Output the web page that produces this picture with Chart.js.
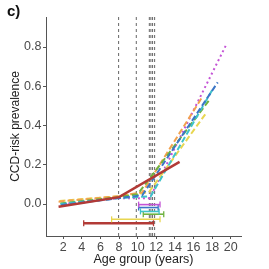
<!DOCTYPE html>
<html>
<head>
<meta charset="utf-8">
<script src="https://cdn.jsdelivr.net/npm/chart.js@4/dist/chart.umd.min.js"></script>
<style>
  html, body { margin: 0; padding: 0; background: #fff; }
  #wrap { position: relative; width: 269px; height: 269px; }
  #lbl { position: absolute; left: 7px; top: 2px; font: bold 15px "Liberation Sans", Arial, sans-serif; color: #111; }
  canvas { display: block; }
</style>
</head>
<body>
<div id="wrap">
  <canvas id="c" width="269" height="269"></canvas>
  <div id="lbl">c)</div>
</div>
<script>
// ---- data ----
const xTickLabels = [2, 4, 6, 8, 10, 12, 14, 16, 18, 20];
const yTickLabels = [0.0, 0.2, 0.4, 0.6, 0.8];
const breakpoints = [7.95, 9.85, 11.25, 11.42, 11.6, 11.82];

const seriesNames  = ['red', 'orange', 'yellow', 'green', 'cyan', 'blue', 'purple'];
const seriesColors = ['#b23a36', '#f2a24e', '#e8d650', '#6fb23f', '#3fc3c9', '#3b76c6', '#c454d6'];

const redAge    = [1.5, 8, 14.5];
const redVal    = [-0.014, 0.035, 0.215];
const orangeAge = [1.5, 8, 10.5, 17.0];
const orangeVal = [0.012, 0.04, 0.06, 0.55];
const yellowAge = [1.6, 8, 11.2, 17.3];
const yellowVal = [0.015, 0.04, 0.06, 0.46];
const greenAge  = [1.7, 8, 10, 17.7];
const greenVal  = [0.003, 0.035, 0.05, 0.53];
const cyanAge   = [1.7, 8, 11.4, 18.0];
const cyanVal   = [0.0, 0.03, 0.04, 0.58];
const blueAge   = [1.8, 8, 10.5, 18.6];
const blueVal   = [-0.005, 0.03, 0.045, 0.62];
const purpleAge = [2.0, 8, 11.3, 19.6];
const purpleVal = [0.0, 0.03, 0.03, 0.82];

// breakpoint confidence intervals (horizontal bars)
const ciNames = ['purple', 'blue', 'cyan', 'green', 'yellow', 'red'];
const ciLevel = [-0.003, -0.018, -0.038, -0.052, -0.078, -0.098];
const ciLow   = [10.1, 10.1, 10.3, 10.6, 7.2, 4.2];
const ciHigh  = [12.4, 12.2, 12.3, 12.8, 12.4, 11.7];

const yMin = -0.163, yMax = 0.953, xMin = 0.15, xMax = 21.1;

// ---- build datasets ----
const pts = (a, v) => a.map((x, i) => ({ x: x, y: v[i] }));
const colorOf = n => seriesColors[seriesNames.indexOf(n)];
const datasets = [];

const lineSeries = [
  ['red', redAge, redVal, [], 2.5],
  ['blue', blueAge, blueVal, [6, 3], 2],
  ['cyan', cyanAge, cyanVal, [6, 3], 2],
  ['green', greenAge, greenVal, [6, 3], 2],
  ['orange', orangeAge, orangeVal, [6, 3], 2],
  ['yellow', yellowAge, yellowVal, [6, 3], 2],
  ['purple', purpleAge, purpleVal, [2, 3], 2]
];
lineSeries.forEach(([n, a, v, dash, w]) => {
  datasets.push({
    data: pts(a, v), showLine: true, borderColor: colorOf(n), borderWidth: w,
    borderDash: dash, pointRadius: 0, fill: false, tension: 0
  });
});

ciNames.forEach((n, i) => {
  datasets.push({
    data: [{ x: ciLow[i], y: ciLevel[i] }, { x: ciHigh[i], y: ciLevel[i] }],
    showLine: true, borderColor: colorOf(n), borderWidth: n === 'red' ? 2.5 : 1.6,
    pointStyle: 'line', rotation: 90, pointRadius: 3, pointBorderWidth: 1.3,
    pointBorderColor: colorOf(n), pointBackgroundColor: colorOf(n)
  });
});

breakpoints.forEach(b => {
  datasets.push({
    data: [{ x: b, y: yMin }, { x: b, y: yMax }], showLine: true,
    borderColor: '#666', borderWidth: 1, borderDash: [3, 3], pointRadius: 0
  });
});

const FONT = '"Liberation Sans", Arial, sans-serif';

new Chart(document.getElementById('c'), {
  type: 'scatter',
  data: { datasets: datasets },
  options: {
    responsive: false, animation: false, devicePixelRatio: 1,
    layout: { padding: { top: 17, right: 28, left: 0, bottom: 0 } },
    plugins: { legend: { display: false }, tooltip: { enabled: false } },
    scales: {
      x: {
        type: 'linear', min: xMin, max: xMax,
        afterBuildTicks: s => { s.ticks = xTickLabels.map(v => ({ value: v })); },
        afterFit: s => { s.height = 33; },
        ticks: { color: '#4a4a4a', font: { family: FONT, size: 12.5 }, padding: 1, maxRotation: 0, autoSkip: false },
        grid: { drawOnChartArea: false, drawTicks: true, tickLength: 3, color: '#555' },
        border: { display: true, color: '#555', width: 1 },
        title: { display: true, text: 'Age group (years)', color: '#222', font: { family: FONT, size: 12.5 }, padding: { top: 0, bottom: 2 } }
      },
      y: {
        type: 'linear', min: yMin, max: yMax,
        afterBuildTicks: s => { s.ticks = yTickLabels.map(v => ({ value: v })); },
        afterFit: s => { s.width = 46; },
        ticks: { color: '#4a4a4a', font: { family: FONT, size: 12.5 }, padding: 1.5, callback: v => Number(v).toFixed(1) },
        grid: { drawOnChartArea: false, drawTicks: true, tickLength: 3, color: '#555' },
        border: { display: true, color: '#555', width: 1 },
        title: { display: true, text: 'CCD-risk prevalence', color: '#222', font: { family: FONT, size: 12 }, padding: { top: 8, bottom: 0 } }
      }
    }
  }
});
</script>
</body>
</html>
